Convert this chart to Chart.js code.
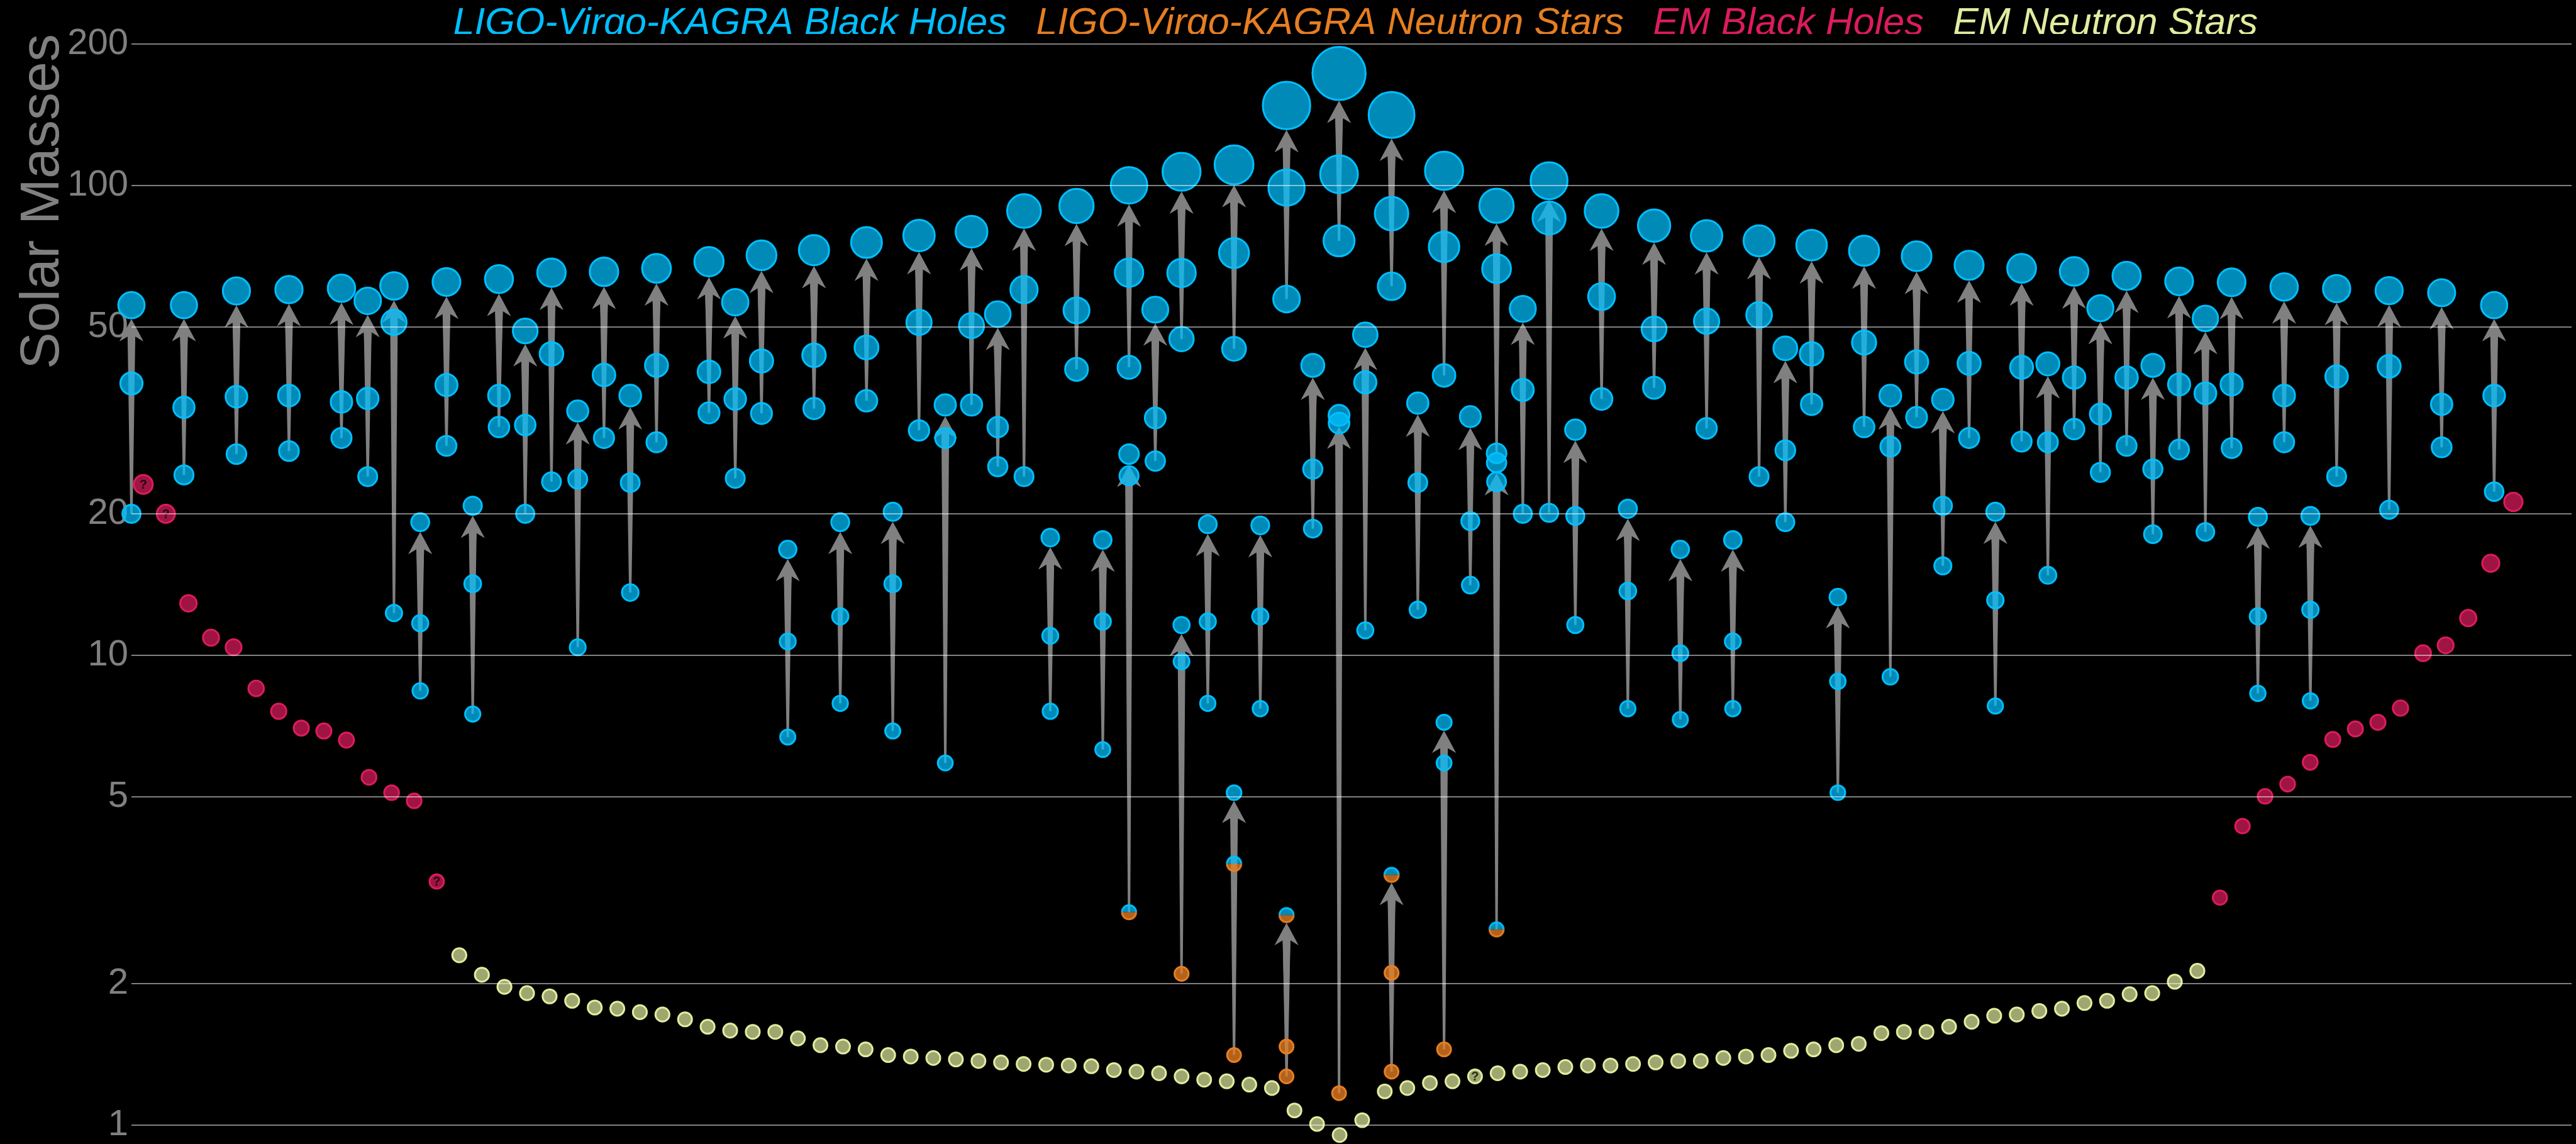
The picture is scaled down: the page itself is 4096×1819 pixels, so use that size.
<!DOCTYPE html>
<html>
<head>
<meta charset="utf-8">
<title>Masses in the Stellar Graveyard</title>
<script src="https://cdn.jsdelivr.net/npm/chart.js@4.4.1/dist/chart.umd.min.js"></script>
<style>
  html, body { margin: 0; padding: 0; background: #000; overflow: hidden; }
  canvas { display: block; background: #000; }
</style>
</head>
<body>
<canvas id="graveyard" width="4096" height="1819"></canvas>
<script>
// ---------------------------------------------------------------------------
// Data
// ---------------------------------------------------------------------------
const massTicks = [1, 2, 5, 10, 20, 50, 100, 200];

// Gravitational-wave mergers: slot along the horizontal order, remnant mass,
// heavier and lighter component masses (solar masses).
const mergerSlot = [
  0, 2, 4, 6, 8, 9, 10, 11, 12, 13,
  14, 15, 16, 17, 18, 19, 20, 22, 23, 24,
  25, 26, 27, 28, 29, 30, 31, 32, 33, 34,
  35, 36, 37, 38, 38, 39, 40, 40, 41, 42,
  42, 43, 44, 44, 45, 46, 46, 47, 48, 48,
  49, 50, 50, 51, 52, 52, 53, 54, 55, 56,
  57, 58, 59, 60, 61, 62, 63, 64, 65, 66,
  67, 68, 69, 70, 71, 72, 73, 74, 75, 76,
  77, 78, 79, 80, 81, 82, 83, 84, 86, 88,
  90
];
const remnantMass = [
  55.6, 55.6, 59.6, 60.0, 60.4, 56.8, 61.1, 19.2, 62.3, 20.8,
  63.2, 49.0, 65.2, 33.1, 65.5, 35.7, 66.6, 68.8, 56.4, 71.0,
  16.8, 72.8, 19.2, 75.6, 20.2, 78.2, 34.1, 79.7, 53.2, 88.2,
  17.8, 90.4, 17.6, 100.0, 26.8, 54.4, 106.9, 11.6, 19.0, 110.6,
  5.1, 18.9, 147.9, 2.8, 41.4, 173.1, 32.4, 48.1, 141.2, 3.41,
  34.4, 107.4, 7.2, 32.2, 90.5, 25.7, 54.6, 102.3, 30.2, 88.2,
  20.5, 82.1, 16.8, 78.1, 17.6, 76.2, 45.0, 74.6, 13.3, 72.6,
  35.7, 70.7, 35.0, 67.6, 20.2, 66.6, 41.7, 65.6, 54.8, 64.2,
  41.4, 62.5, 52.1, 62.2, 19.7, 60.8, 19.8, 60.3, 59.7, 59.1,
  55.6
];
const primaryMass = [
  37.9, 33.7, 35.5, 35.7, 34.6, 35.2, 51.1, 11.7, 37.6, 14.2,
  35.7, 30.9, 43.8, 23.7, 39.5, 23.3, 41.4, 40.1, 35.1, 42.3,
  10.7, 43.5, 12.1, 45.2, 14.2, 51.1, 29.0, 50.3, 30.6, 60.0,
  11.0, 54.2, 11.8, 65.2, 24.1, 32.0, 65.1, 9.7, 11.8, 71.8,
  3.6, 12.1, 98.9, 1.47, 24.9, 105.6, 31.2, 38.1, 87.1, 2.11,
  23.3, 74.0, 5.9, 19.3, 66.5, 23.4, 36.7, 85.2, 19.8, 58.0,
  13.7, 49.5, 10.1, 51.4, 10.7, 53.0, 27.3, 43.8, 8.8, 46.3,
  27.8, 42.1, 20.8, 41.8, 13.1, 41.0, 28.4, 39.0, 32.6, 39.0,
  24.9, 37.7, 36.1, 37.7, 12.1, 35.7, 12.5, 39.2, 41.2, 34.2,
  35.7
];
const secondaryMass = [
  20.0, 24.2, 26.8, 27.2, 29.0, 24.0, 12.3, 8.4, 27.9, 7.5,
  30.6, 20.0, 23.4, 10.4, 29.0, 13.6, 28.4, 32.8, 23.8, 32.7,
  6.7, 33.5, 7.9, 34.8, 6.9, 30.1, 5.9, 34.1, 25.2, 24.0,
  7.6, 40.6, 6.3, 41.0, 2.84, 25.9, 47.1, 2.1, 7.9, 44.9,
  1.41, 7.7, 57.3, 1.27, 18.6, 76.2, 1.17, 11.3, 61.0, 1.30,
  12.5, 39.4, 1.45, 14.1, 26.9, 2.61, 20.0, 20.1, 11.6, 35.1,
  7.7, 37.1, 7.3, 30.4, 7.7, 24.0, 19.2, 34.2, 5.1, 30.6,
  9.0, 32.1, 15.5, 29.0, 7.8, 28.5, 14.8, 30.3, 24.5, 27.9,
  18.1, 27.4, 18.3, 27.6, 8.3, 28.4, 8.0, 24.0, 20.4, 27.7,
  22.3
];
// Object class of remnant / heavier / lighter body:
// B = black hole, N = neutron star, G = mass-gap object (either)
const mergerKinds = [
  'BBB', 'BBB', 'BBB', 'BBB', 'BBB', 'BBB', 'BBB', 'BBB', 'BBB', 'BBB',
  'BBB', 'BBB', 'BBB', 'BBB', 'BBB', 'BBB', 'BBB', 'BBB', 'BBB', 'BBB',
  'BBB', 'BBB', 'BBB', 'BBB', 'BBB', 'BBB', 'BBB', 'BBB', 'BBB', 'BBB',
  'BBB', 'BBB', 'BBB', 'BBB', 'BBG', 'BBB', 'BBB', 'BBN', 'BBB', 'BBB',
  'BGN', 'BBB', 'BBB', 'GNN', 'BBB', 'BBB', 'BBN', 'BBB', 'BBB', 'GNN',
  'BBB', 'BBB', 'BBN', 'BBB', 'BBB', 'BBG', 'BBB', 'BBB', 'BBB', 'BBB',
  'BBB', 'BBB', 'BBB', 'BBB', 'BBB', 'BBB', 'BBB', 'BBB', 'BBB', 'BBB',
  'BBB', 'BBB', 'BBB', 'BBB', 'BBB', 'BBB', 'BBB', 'BBB', 'BBB', 'BBB',
  'BBB', 'BBB', 'BBB', 'BBB', 'BBB', 'BBB', 'BBB', 'BBB', 'BBB', 'BBB',
  'BBB'
];

// Electromagnetically observed compact objects, in display order.
const emBlackHolesLow = [23.1, 20.0, 12.9, 10.9, 10.4, 8.5, 7.6, 7.0, 6.9, 6.6, 5.5, 5.1, 4.9, 3.3];
const emNeutronStars = [
  2.30, 2.09, 1.97, 1.91, 1.88, 1.84, 1.78, 1.77, 1.74, 1.72,
  1.68, 1.62, 1.59, 1.58, 1.58, 1.53, 1.48, 1.47, 1.45, 1.41,
  1.40, 1.39, 1.38, 1.37, 1.36, 1.35, 1.345, 1.34, 1.335, 1.31,
  1.30, 1.29, 1.27, 1.25, 1.24, 1.22, 1.20, 1.075, 1.006, 0.953,
  1.025, 1.18, 1.20, 1.23, 1.24, 1.27, 1.29, 1.30, 1.31, 1.33,
  1.34, 1.34, 1.35, 1.36, 1.37, 1.37, 1.39, 1.40, 1.41, 1.44,
  1.45, 1.48, 1.49, 1.57, 1.58, 1.58, 1.62, 1.66, 1.71, 1.72,
  1.75, 1.77, 1.82, 1.84, 1.90, 1.91, 2.02, 2.13
];
const emBlackHolesHigh = [3.05, 4.33, 5.01, 5.32, 5.92, 6.62, 6.97, 7.20, 7.72, 10.1, 10.5, 12.0, 15.7, 21.2];
// positions in the sequence whose classification is unconfirmed
const emUncertain = [0, 1, 13, 59];

const legendNames = ['LIGO-Virgo-KAGRA Black Holes', 'LIGO-Virgo-KAGRA Neutron Stars', 'EM Black Holes', 'EM Neutron Stars'];

// ---------------------------------------------------------------------------
// Styling
// ---------------------------------------------------------------------------
const FONT = '"Liberation Sans", Arial, Helvetica, sans-serif';
const GREY = '#808080';
const palette = {
  B: { line: 'rgb(0,191,255)',   fill: 'rgba(0,191,255,0.72)' },
  N: { line: 'rgb(230,126,34)',  fill: 'rgba(230,126,34,0.78)' },
  R: { line: 'rgb(220,28,92)',   fill: 'rgba(220,28,92,0.72)' },
  Y: { line: 'rgb(226,236,160)', fill: 'rgba(226,236,160,0.70)' }
};
const legendColors = [palette.B.line, palette.N.line, palette.R.line, palette.Y.line];

const RING = 3;                                   // outline width of every disc
const discOuter = m => 12.25 + 0.182 * m;         // disc grows with mass
const discRadius = m => discOuter(m) - RING / 2;

// Disc split in two: black-hole colours on top, neutron-star colours below.
const splitCache = {};
function splitDisc(m) {
  const r = discRadius(m);
  const key = r.toFixed(2);
  if (splitCache[key]) return splitCache[key];
  const size = Math.ceil(2 * r + 2 * RING) + 2;
  const c = document.createElement('canvas');
  c.width = c.height = size;
  const g = c.getContext('2d');
  const cx = size / 2;
  g.lineWidth = RING;
  [[Math.PI, 2 * Math.PI, palette.B], [0, Math.PI, palette.N]].forEach(([a0, a1, col]) => {
    g.beginPath();
    g.arc(cx, cx, r, a0, a1);
    g.closePath();
    g.fillStyle = col.fill;
    g.fill();
    g.beginPath();
    g.arc(cx, cx, r, a0, a1);
    g.strokeStyle = col.line;
    g.stroke();
  });
  splitCache[key] = c;
  return c;
}

// ---------------------------------------------------------------------------
// Points built from the arrays
// ---------------------------------------------------------------------------
const remnantPoints = mergerSlot.map((s, i) => ({ x: s, y: remnantMass[i], kind: mergerKinds[i][0] }));
const componentPoints = mergerSlot.flatMap((s, i) => [
  { x: s, y: primaryMass[i], kind: mergerKinds[i][1] },
  { x: s, y: secondaryMass[i], kind: mergerKinds[i][2] }
]);
const emSequence = [
  ...emBlackHolesLow.map(m => ({ m, kind: 'R' })),
  ...emNeutronStars.map(m => ({ m, kind: 'Y' })),
  ...emBlackHolesHigh.map(m => ({ m, kind: 'R' }))
];
const emPoints = emSequence.map((o, j) => ({ x: j, y: o.m, kind: o.kind, uncertain: emUncertain.includes(j) }));

const kindOf = ctx => (ctx.raw && ctx.raw.kind) || 'B';
const massOf = ctx => (ctx.raw && ctx.raw.y) || 1;
const pointOptions = {
  pointRadius: ctx => discRadius(massOf(ctx)),
  pointHoverRadius: ctx => discRadius(massOf(ctx)),
  pointBorderWidth: RING,
  pointHoverBorderWidth: RING,
  pointBackgroundColor: ctx => palette[kindOf(ctx) === 'G' ? 'B' : kindOf(ctx)].fill,
  pointBorderColor: ctx => palette[kindOf(ctx) === 'G' ? 'B' : kindOf(ctx)].line,
  pointStyle: ctx => kindOf(ctx) === 'G' ? splitDisc(massOf(ctx)) : 'circle',
  showLine: false,
  clip: false
};

// ---------------------------------------------------------------------------
// Plugins: merger arrows underneath the discs, "?" marks on uncertain objects,
// and a small horizontal nudge of the legend row
// ---------------------------------------------------------------------------
function drawArrow(ctx, x, tailY, tipY) {
  const headLen = 35, headHalf = 18.8;
  const neckY = tipY + 0.78 * headLen;
  const wideHalf = 6.1, thinHalf = 1.9;
  ctx.beginPath();
  ctx.moveTo(x, tipY);
  ctx.lineTo(x + headHalf, tipY + headLen);
  ctx.lineTo(x + wideHalf, neckY);
  if (tailY > neckY) {
    ctx.lineTo(x + thinHalf, tailY);
    ctx.lineTo(x - thinHalf, tailY);
  }
  ctx.lineTo(x - wideHalf, neckY);
  ctx.lineTo(x - headHalf, tipY + headLen);
  ctx.closePath();
  ctx.fill();
}

const mergerArrows = {
  id: 'mergerArrows',
  beforeDatasetsDraw(chart) {
    const { ctx, scales: { x, y } } = chart;
    ctx.save();
    ctx.fillStyle = GREY;
    mergerSlot.forEach((slot, i) => {
      const px = x.getPixelForValue(slot);
      const tipY = y.getPixelForValue(remnantMass[i]) + discOuter(remnantMass[i]);
      [secondaryMass[i], primaryMass[i]].forEach(m => drawArrow(ctx, px, y.getPixelForValue(m), tipY));
    });
    ctx.restore();
  }
};

const uncertainMarks = {
  id: 'uncertainMarks',
  afterDatasetsDraw(chart) {
    const ctx = chart.ctx;
    ctx.save();
    ctx.font = 'bold 20px ' + FONT;
    ctx.fillStyle = 'rgba(0,0,0,0.75)';
    ctx.textAlign = 'center';
    ctx.textBaseline = 'middle';
    chart.data.datasets.forEach((ds, di) => {
      const meta = chart.getDatasetMeta(di);
      ds.data.forEach((p, k) => {
        if (p.uncertain) ctx.fillText('?', meta.data[k].x, meta.data[k].y + 1);
      });
    });
    ctx.restore();
  }
};

const legendNudge = {
  id: 'legendNudge',
  afterLayout(chart) {
    if (chart.legend) {
      chart.legend.left -= 13;
      chart.legend.right -= 13;
    }
  }
};

// ---------------------------------------------------------------------------
// Chart
// ---------------------------------------------------------------------------
Chart.defaults.font.family = FONT;

new Chart(document.getElementById('graveyard'), {
  type: 'scatter',
  data: {
    datasets: [
      { label: 'Remnants', data: remnantPoints, xAxisID: 'x', order: 3, ...pointOptions },
      { label: 'Components', data: componentPoints, xAxisID: 'x', order: 2, ...pointOptions },
      { label: legendNames[2], data: emPoints.filter(p => p.kind === 'R'), xAxisID: 'xEM', order: 1, ...pointOptions },
      { label: legendNames[3], data: emPoints.filter(p => p.kind === 'Y'), xAxisID: 'xEM', order: 1, ...pointOptions }
    ]
  },
  options: {
    responsive: false,
    maintainAspectRatio: false,
    devicePixelRatio: 1,
    animation: false,
    events: [],
    layout: { autoPadding: false, padding: { top: 0, right: 7, bottom: 0, left: 0 } },
    scales: {
      x: { type: 'linear', display: false, bounds: 'data', min: 0, max: 92.95 },
      xEM: { type: 'linear', display: false, bounds: 'data', min: -0.525, max: 107.58 },
      y: {
        type: 'logarithmic',
        position: 'left',
        bounds: 'data',
        min: 0.912,
        max: 210,
        afterBuildTicks: scale => { scale.ticks = massTicks.map(v => ({ value: v })); },
        afterFit: scale => { scale.width = 209; scale.paddingTop = 0; scale.paddingBottom = 0; },
        ticks: {
          color: GREY,
          padding: 5,
          font: { size: 58 },
          callback: v => String(v)
        },
        grid: { color: 'rgba(255,255,255,0.5)', lineWidth: 2, drawTicks: false, z: 1 },
        border: { display: false },
        title: {
          display: true,
          text: 'Solar Masses',
          align: 'end',
          color: GREY,
          font: { size: 88, lineHeight: 1 },
          padding: { top: 25, bottom: 0 }
        }
      }
    },
    plugins: {
      tooltip: { enabled: false },
      legend: {
        position: 'top',
        align: 'center',
        fullSize: false,
        maxHeight: 54,
        labels: {
          boxWidth: 8,
          padding: 8,
          font: { size: 61, style: 'italic' },
          generateLabels: () => legendNames.map((text, i) => ({
            text,
            fontColor: legendColors[i],
            fillStyle: 'rgba(0,0,0,0)',
            strokeStyle: 'rgba(0,0,0,0)',
            lineWidth: 0,
            hidden: false,
            datasetIndex: i
          }))
        }
      }
    }
  },
  plugins: [mergerArrows, uncertainMarks, legendNudge]
});
</script>
</body>
</html>
